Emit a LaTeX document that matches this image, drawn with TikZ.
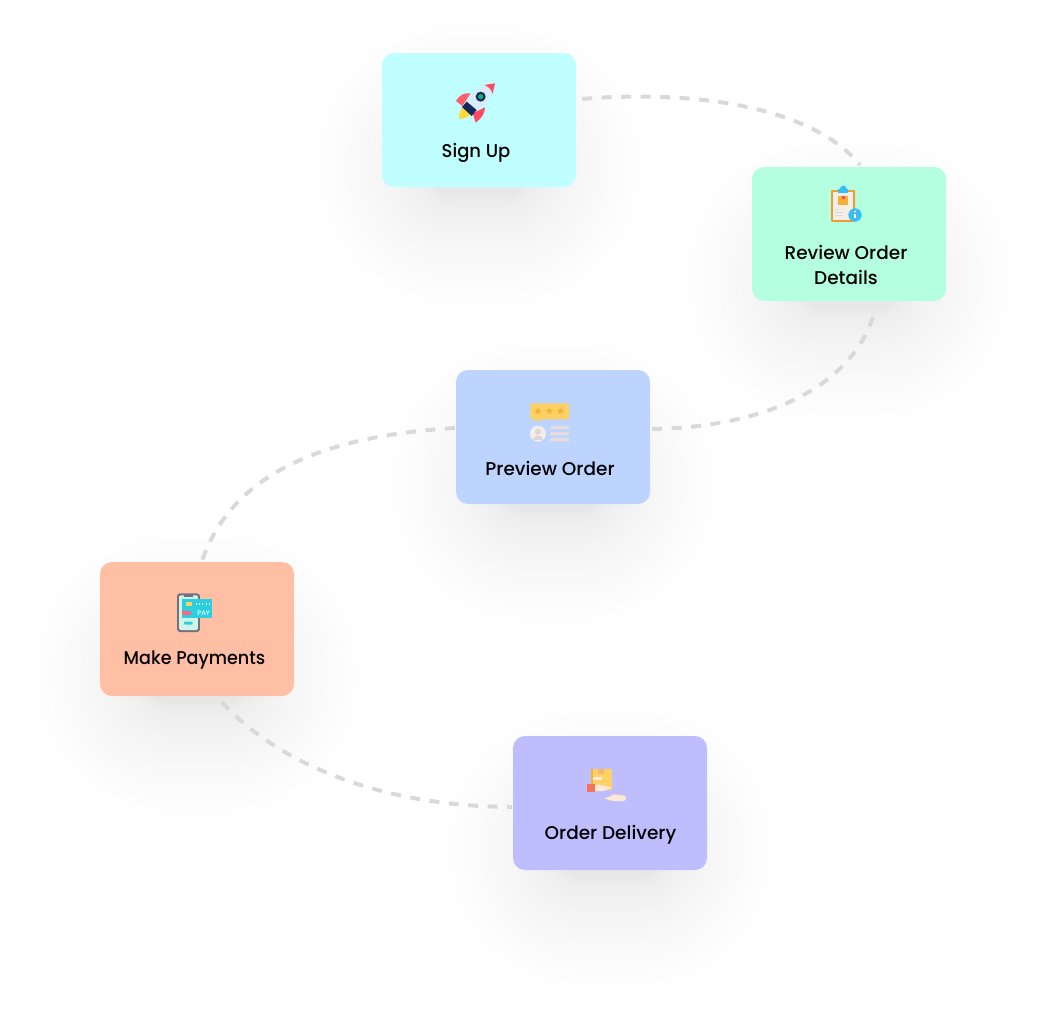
\documentclass[tikz,border=0pt]{standalone}
\usepackage{fontspec}
\setmainfont{Poppins Medium}
\usepackage{tikz}
\usetikzlibrary{shapes.geometric}

\definecolor{signupcol}{HTML}{BFFFFF}
\definecolor{reviewcol}{HTML}{B5FFE1}
\definecolor{previewcol}{HTML}{BDD4FF}
\definecolor{paycol}{HTML}{FFBFA5}
\definecolor{deliverycol}{HTML}{BEBEFF}
\definecolor{linkcol}{HTML}{D9D9D9}
\definecolor{rocketred}{HTML}{FF4A62}
\definecolor{rocketfin}{HTML}{FF6069}
\definecolor{rocketbody}{HTML}{DAEBFF}
\definecolor{rocketdark}{HTML}{15285A}
\definecolor{flame}{HTML}{FFD93B}
\definecolor{clipblue}{HTML}{39BDF5}
\definecolor{cliporange}{HTML}{F29B2E}
\definecolor{softyellow}{HTML}{FDD163}
\definecolor{softorange}{HTML}{F2B233}
\definecolor{paleskin}{HTML}{F4EDEA}
\definecolor{paleline}{HTML}{E6DEDD}
\definecolor{greyskin}{HTML}{DDD6D2}
\definecolor{phonegrey}{HTML}{75707E}
\definecolor{phonescreen}{HTML}{CFF5E6}
\definecolor{cardcyan}{HTML}{2AD0E0}
\definecolor{sleevered}{HTML}{F4735C}
\definecolor{handskin}{HTML}{FDE9D3}

\tikzset{
    stagebox/.style={minimum width=194pt, minimum height=134pt, rounded corners=12pt, inner sep=0pt},
    stagetext/.style={font=\fontsize{18.5}{25}\selectfont, text=black, align=center, inner sep=0pt},
    stagelink/.style={linkcol, line width=4pt, dash pattern=on 10pt off 9.5pt},
    iconscope/.style={x=0.3333pt, y=-0.3333pt},
    softlayer/.style={black, opacity=0.0035},
}

\begin{document}
\begin{tikzpicture}[x=1pt, y=-1pt]
        \useasboundingbox (0, 0) rectangle (1046, 1017);

        \foreach \cx/\cy in {479/120, 849/234, 553/437, 197/629, 610/803} {
            \foreach \n in {1, ..., 24} {
                \pgfmathsetmacro{\r}{0.2*\n*\n}
                \fill[softlayer, rounded corners=\r pt+24pt]
                    ({\cx - 50 - \r}, {\cy + 15 - \r}) rectangle ({\cx + 50 + \r}, {\cy + 75 + \r});
            }
        }

        \node[stagebox, fill=signupcol] (signup) at (479, 120) {};
        \node[stagebox, fill=reviewcol] (review) at (849, 234) {};
        \node[stagebox, fill=previewcol] (preview) at (553, 437) {};
        \node[stagebox, fill=paycol] (payments) at (197, 629) {};
        \node[stagebox, fill=deliverycol] (delivery) at (610, 803) {};

        \node[stagetext, xscale=0.97, transform shape] (signuptext) at (476, 152.5) {Sign Up};
        \node[stagetext] (reviewtext) at (846, 264.5) {Review Order\\Details};
        \node[stagetext] (previewtext) at (550, 468) {Preview Order};
        \node[stagetext, xscale=0.95, transform shape] (paymentstext) at (194.5, 660.5) {Make Payments};
        \node[stagetext] (deliverytext) at (610.5, 834.5) {Order Delivery};

        \draw[stagelink] ([shift={(6, -21)}]signup.east) .. controls (690, 90) and (810, 105) .. ([shift={(11, -2)}]review.north);
        \draw[stagelink] ([shift={(2, -8)}]preview.east) .. controls (769, 427) and (855, 385) .. ([shift={(26, 9)}]review.south);
        \draw[stagelink] ([shift={(-1, -9)}]preview.west) .. controls (340, 435) and (235, 465) .. ([shift={(5, -1)}]payments.north);
        \draw[stagelink] ([shift={(25, 6)}]payments.south) .. controls (270, 755) and (365, 806) .. ([shift={(-1, 4)}]delivery.west);

        % rocket
        \begin{scope}[shift={(430, 70)}, iconscope]
            \fill[fill=rocketfin] (78, 93) .. controls (90, 72) and (105, 68) .. (122, 70) -- (97, 108) -- cycle;
            \fill[fill=rocketred] (137, 158) .. controls (155, 145) and (165, 130) .. (165, 112) -- (128, 130) -- cycle;
            \fill[fill=flame] (97, 112) -- (122, 132) .. controls (112, 143) and (100, 148) .. (87, 147) .. controls (86, 135) and (90, 122) .. (97, 112) -- cycle;
            \fill[fill=rocketbody] (110, 95) .. controls (125, 65) and (155, 45) .. (185, 42) .. controls (190, 70) and (170, 105) .. (138, 122) -- cycle;
            \fill[fill=rocketred] (163, 45) -- (195, 40) -- (188, 72) .. controls (184, 58) and (176, 50) .. (163, 45) -- cycle;
            \fill[fill=rocketdark] (110, 95) -- (140, 120) -- (125, 138) -- (96, 111) -- cycle;
            \fill[fill=rocketdark] (152, 80) circle (15);
            \fill[fill=teal!70!green!90] (152, 80) circle (8);
        \end{scope}

        % clipboard
        \begin{scope}[shift={(810, 175)}, iconscope]
            \fill[fill=cliporange, rounded corners=1pt] (63, 45) rectangle (135, 141);
            \fill[fill=paleskin] (70, 52) rectangle (128, 134);
            \fill[fill=clipblue] (100, 42) circle (10);
            \fill[fill=clipblue] (85, 42) rectangle (115, 54);
            \fill[fill=softorange] (85, 63) rectangle (115, 90);
            \fill[fill=rocketred] (95, 63) rectangle (105, 72);
            \foreach \ly/\lx in {102/85, 111/100, 120/97} {
                \fill[fill=greyskin] (76, \ly) rectangle (\lx, {\ly + 4});
            }
            \fill[fill=clipblue] (135, 120) circle (20);
            \fill[fill=white] (135, 110) circle (3);
            \fill[fill=white] (132, 116) rectangle (138, 130);
        \end{scope}

        % rating card
        \begin{scope}[shift={(515, 390)}, iconscope]
            \fill[fill=softyellow, rounded corners=2pt] (46, 40) rectangle (162, 88);
            \fill[fill=softyellow] (60, 86) -- (78, 86) -- (69, 97) -- cycle;
            \foreach \sx in {69, 103, 137} {
                \node[star, star points=5, star point ratio=2.2, fill=softorange, minimum size=7.5pt, inner sep=0pt] (star\sx) at (\sx, 63) {};
            }
            \fill[fill=paleskin] (69, 131) circle (24);
            \fill[fill=greyskin] (69, 125) circle (9);
            \fill[fill=greyskin] (53, 149) .. controls (53, 131) and (85, 131) .. (85, 149) -- cycle;
            \foreach \ly in {108, 126, 144} {
                \fill[fill=paleline, rounded corners=1pt] (105, \ly) rectangle (162, {\ly + 10});
            }
        \end{scope}

        % phone and card
        \begin{scope}[shift={(160, 580)}, iconscope]
            \fill[fill=phonegrey, rounded corners=3pt] (51, 40) rectangle (120, 156);
            \fill[fill=phonescreen, rounded corners=2pt] (57, 46) rectangle (114, 150);
            \fill[fill=phonegrey] (72, 44) rectangle (98, 50);
            \fill[fill=cardcyan] (67, 58) rectangle (157, 115);
            \fill[fill=softyellow] (77, 67) rectangle (95, 79);
            \fill[fill=rocketred!85] (67, 94) rectangle (93, 105);
            \foreach \dx in {108, 117, 126, 138, 147} {
                \fill[fill=white] (\dx, 70) rectangle ({\dx + 4}, 76);
            }
            \node[font=\fontsize{6.5}{7}\selectfont, text=white, inner sep=0pt] (paytext) at (131, 99) {PAY};
            \fill[fill=cardcyan, rounded corners=1pt] (72, 125) rectangle (98, 134);
        \end{scope}

        % parcel and hands
        \begin{scope}[shift={(575, 755)}, iconscope]
            \fill[fill=softyellow] (47, 41) rectangle (110, 105);
            \fill[fill=softorange] (47, 41) rectangle (53, 105);
            \fill[fill=cliporange!70!white] (70, 41) rectangle (86, 58);
            \fill[fill=handskin] (54, 65) rectangle (80, 76);
            \fill[fill=handskin] (58, 92) .. controls (75, 82) and (85, 96) .. (110, 96) .. controls (105, 106) and (80, 110) .. (58, 108) -- cycle;
            \fill[fill=sleevered] (36, 87) rectangle (60, 110);
            \fill[fill=handskin] (88, 130) .. controls (100, 125) and (110, 126) .. (115, 118) -- (152, 122) -- (152, 136) .. controls (130, 142) and (105, 138) .. (88, 130) -- cycle;
        \end{scope}
    \end{tikzpicture}
\end{document}
